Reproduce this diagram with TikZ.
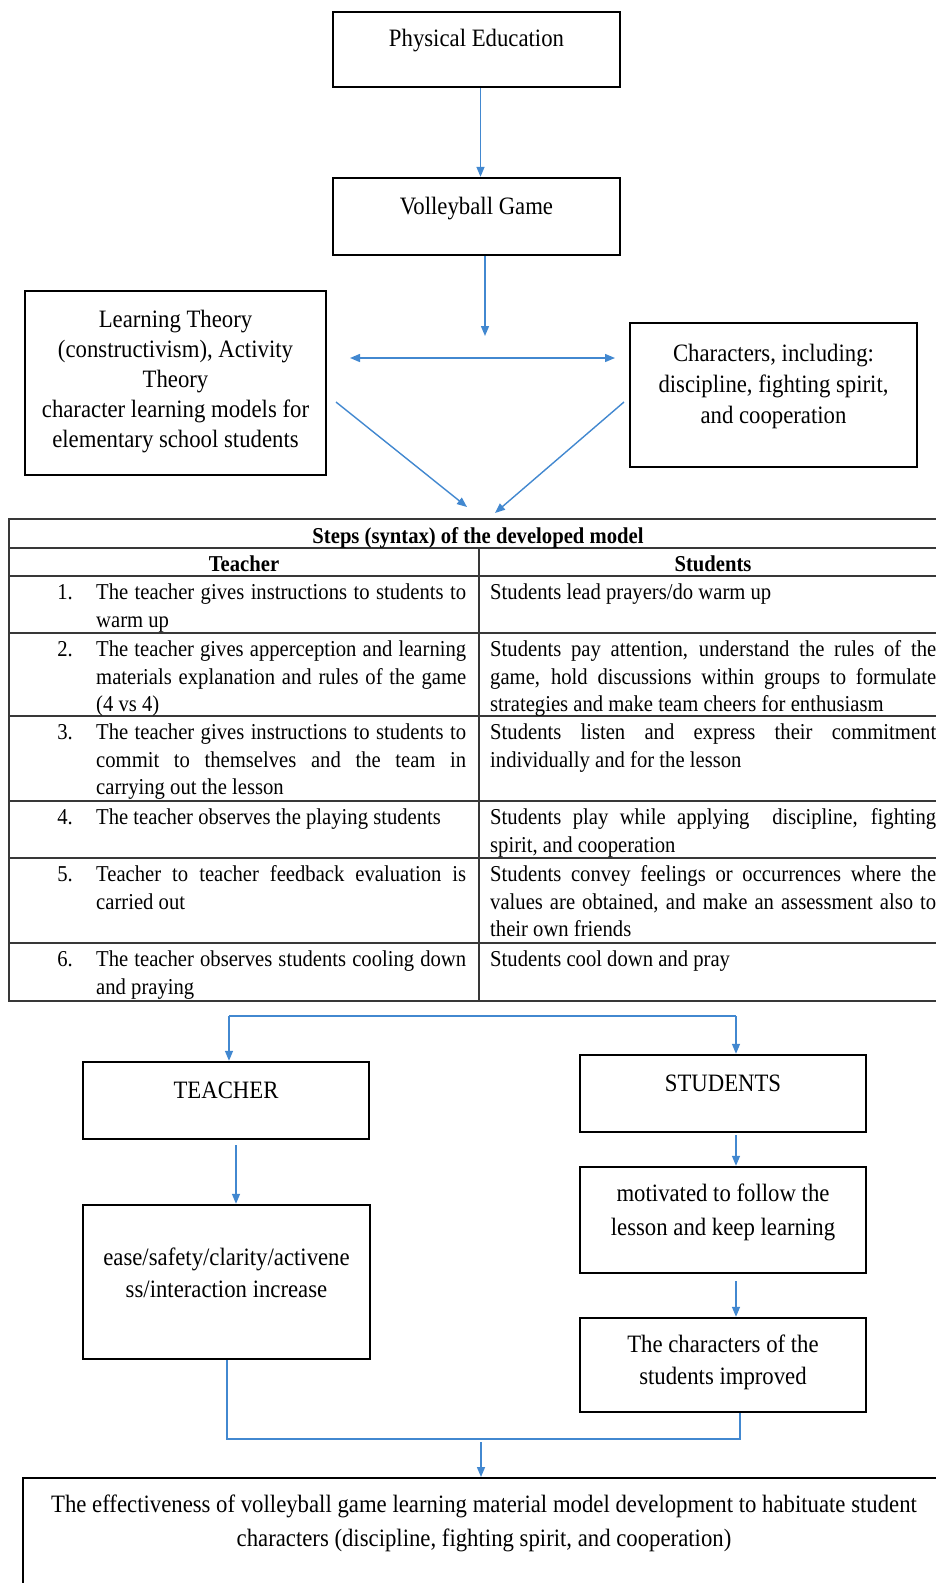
\documentclass[tikz,border=0pt]{standalone}
\usepackage{fontspec}
\setmainfont{Liberation Serif}[FakeStretch=0.91]
\usetikzlibrary{arrows.meta}
\definecolor{arrowblue}{RGB}{66,136,208}
\setlength{\parindent}{0pt}
\begin{document}
\begin{tikzpicture}[x=1pt,y=-1pt,
  box/.style={draw=black, line width=2.4pt, inner sep=0pt},
  btxt/.style={font=\fontsize{25}{32}\selectfont, align=center, inner sep=0pt},
  ttxt/.style={font=\fontsize{22.7}{27.3}\selectfont, inner sep=0pt, anchor=north west, align=justify},
  numtxt/.style={font=\fontsize{22.7}{27.3}\selectfont, inner sep=0pt, anchor=north east},
  hdr/.style={font=\bfseries\fontsize{22.7}{27.3}\selectfont, inner sep=0pt, anchor=base},
  arr/.style={draw=arrowblue, line width=1.4pt, -{Triangle[length=10pt,width=8pt]}},
  darr/.style={draw=arrowblue, line width=1.4pt, {Triangle[length=10pt,width=8pt]}-{Triangle[length=10pt,width=8pt]}},
  conn/.style={draw=arrowblue, line width=1.4pt},
  tline/.style={draw=black!78, line width=1.6pt}
]
\useasboundingbox (0,0) rectangle (936,1583);
\clip (0,0) rectangle (936,1583);
\fill[white] (0,0) rectangle (936,1583);

% top boxes
\node[box, minimum width=287pt, minimum height=75pt] (pe) at (476.5,49.5) {};
\node[btxt] (pet) at (476.5,41) {Physical Education};
\node[box, minimum width=287pt, minimum height=77pt] (vg) at (476.5,216.5) {};
\node[btxt] (vgt) at (476.5,209) {Volleyball Game};
\node[box, minimum width=301pt, minimum height=184pt] (lt) at (175.5,383) {};
\node[btxt, font=\fontsize{25}{30}\selectfont] (ltt) at (175.5,382) {Learning Theory\\(constructivism), Activity\\Theory\\character learning models for\\elementary school students};
\node[box, minimum width=287pt, minimum height=144pt] (ch) at (773.5,395) {};
\node[btxt, font=\fontsize{25}{31}\selectfont] (cht) at (773.5,386) {Characters, including:\\discipline, fighting spirit,\\and cooperation};

% top connectors
\coordinate (px) at (480.5,0);
\draw[arr] (pe.south -| px) -- (vg.north -| px);
\coordinate (vgend) at (485,336);
\draw[arr] (vg.south -| vgend) -- (vgend);
\coordinate (dl) at (350,358);
\coordinate (dr) at (615,358);
\draw[darr] (dl) -- (dr);
\coordinate (l1) at (336,402);
\coordinate (l2) at (467,507);
\coordinate (r1) at (624,402);
\coordinate (r2) at (495,513);
\draw[arr] (l1) -- (l2);
\draw[arr] (r1) -- (r2);

% table
\draw[tline] (9,519) rectangle (947,1001);
\foreach \yy in {548,576,633,716,801,858,943} \draw[tline] (9,\yy) -- (947,\yy);
\draw[tline] (479,548) -- (479,1001);
\node[hdr] (th) at (478,543) {Steps (syntax) of the developed model};
\node[hdr] (tht) at (244,571) {Teacher};
\node[hdr] (ths) at (713,571) {Students};

% row 1
\node[numtxt] (n1) at (73,580.5) {\strut 1.};
\node[ttxt, text width=370pt] (a1) at (96,580.5) {\strut The teacher gives instructions to students to\linebreak warm up};
\node[ttxt, text width=446pt] (b1) at (490,580.5) {\strut Students lead prayers/do warm up};
% row 2
\node[numtxt] (n2) at (73,637.5) {\strut 2.};
\node[ttxt, text width=370pt] (a2) at (96,637.5) {\strut The teacher gives apperception and learning\linebreak materials explanation and rules of the game\linebreak (4 vs 4)};
\node[ttxt, text width=446pt] (b2) at (490,637.5) {\strut Students pay attention, understand the rules of the\linebreak game, hold discussions within groups to formulate\linebreak strategies and make team cheers for enthusiasm};
% row 3
\node[numtxt] (n3) at (73,720.5) {\strut 3.};
\node[ttxt, text width=370pt] (a3) at (96,720.5) {\strut The teacher gives instructions to students to\linebreak commit to themselves and the team in\linebreak carrying out the lesson};
\node[ttxt, text width=446pt] (b3) at (490,720.5) {\strut Students listen and express their commitment\linebreak individually and for the lesson};
% row 4
\node[numtxt] (n4) at (73,805.5) {\strut 4.};
\node[ttxt, text width=370pt] (a4) at (96,805.5) {\strut The teacher observes the playing students};
\node[ttxt, text width=446pt] (b4) at (490,805.5) {\strut Students play while applying\ \ discipline, fighting\linebreak spirit, and cooperation};
% row 5
\node[numtxt] (n5) at (73,862.5) {\strut 5.};
\node[ttxt, text width=370pt] (a5) at (96,862.5) {\strut Teacher to teacher feedback evaluation is\linebreak carried out};
\node[ttxt, text width=446pt] (b5) at (490,862.5) {\strut Students convey feelings or occurrences where the\linebreak values are obtained, and make an assessment also to\linebreak their own friends};
% row 6
\node[numtxt] (n6) at (73,947.5) {\strut 6.};
\node[ttxt, text width=370pt] (a6) at (96,947.5) {\strut The teacher observes students cooling down\linebreak and praying};
\node[ttxt, text width=446pt] (b6) at (490,947.5) {\strut Students cool down and pray};

% bottom boxes
\node[box, minimum width=286pt, minimum height=77pt] (te) at (226,1100.5) {};
\node[btxt] (tet) at (226,1090) {TEACHER};
\node[box, minimum width=286pt, minimum height=77pt] (st) at (723,1093.5) {};
\node[btxt] (stt) at (723,1083) {STUDENTS};
\node[box, minimum width=287pt, minimum height=154pt] (ea) at (226.5,1282) {};
\node[btxt] (eat) at (226.5,1273) {ease/safety/clarity/activene\\ss/interaction increase};
\node[box, minimum width=286pt, minimum height=106pt] (mo) at (723,1220) {};
\node[btxt, font=\fontsize{25}{34}\selectfont] (mot) at (723,1212) {motivated to follow the\\lesson and keep learning};
\node[box, minimum width=286pt, minimum height=94pt] (im) at (723,1365) {};
\node[btxt] (imt) at (723,1362) {The characters of the\\students improved};
\node[box, minimum width=930pt, minimum height=200pt, anchor=north west] (bt) at (22,1477) {};
\node[btxt, font=\fontsize{25}{34}\selectfont] (btt) at (484,1523) {The effectiveness of volleyball game learning material model development to habituate student\\characters (discipline, fighting spirit, and cooperation)};

% bottom connectors
\coordinate (sl) at (229,1016);
\coordinate (sr) at (736,1016);
\draw[conn] (sl) -- (sr);
\draw[arr] (sl) -- (sl |- te.north);
\draw[arr] (sr) -- (sr |- st.north);
\coordinate (tx) at (236,0);
\draw[arr] ([yshift=-5pt]te.south -| tx) -- (ea.north -| tx);
\coordinate (sx) at (736,0);
\draw[arr] ([yshift=-2pt]st.south -| sx) -- (mo.north -| sx);
\draw[arr] ([yshift=-7pt]mo.south -| sx) -- (im.north -| sx);
\coordinate (ml) at (227,1439);
\coordinate (mr) at (740,1439);
\draw[conn] (ea.south -| ml) -- (ml) -- (mr) -- (im.south -| mr);
\coordinate (mc) at (481,1442);
\draw[arr] (mc) -- (bt.north -| mc);
\end{tikzpicture}
\end{document}
